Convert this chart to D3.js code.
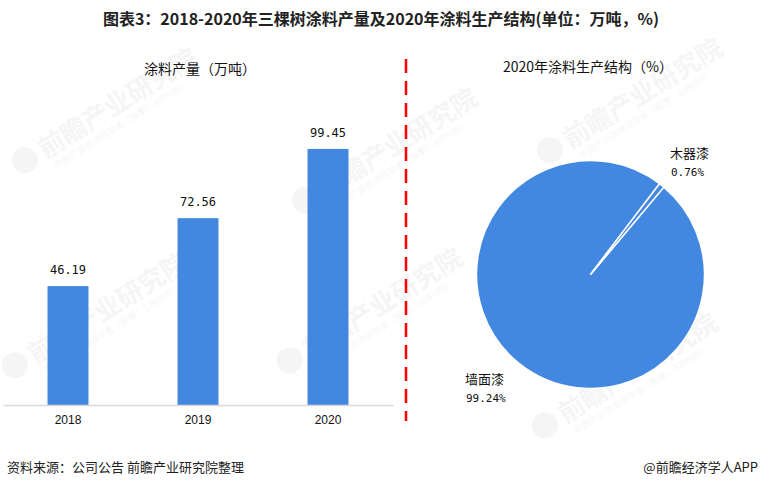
<!DOCTYPE html>
<head>
  <meta charset="utf-8">
  <script src="https://cdn.jsdelivr.net/npm/d3@7"></script>
  <style>
    body { margin: 0; background: #fff; }
    svg { display: block; }
  </style>
</head>
<body>
  <svg width="760" height="488"></svg>
  <script>
    // data
    var years = ["2018", "2019", "2020"];
    var output = [46.19, 72.56, 99.45];
    var pieNames = ["墙面漆", "木器漆"];
    var pieShares = [99.24, 0.76];

    var blue = "#4388e0";
    var cjk = "'Noto Sans CJK SC', 'Liberation Sans', sans-serif";
    var mono = "'DejaVu Sans Mono', monospace";

    var svg = d3.select("svg");

    // faint watermarks
    var marks = [[20, 175], [300, 215], [545, 165], [285, 375], [10, 380], [540, 440]];
    marks.forEach(function(m) {
      var g = svg.append("g")
        .attr("transform", "translate(" + m + ") rotate(-32)")
        .attr("fill", "#000").attr("opacity", 0.035);
      g.append("circle").attr("cx", 12).attr("cy", -10).attr("r", 13);
      g.append("text").attr("x", 30).attr("y", 0)
        .attr("font-family", cjk).attr("font-weight", "bold").attr("font-size", 26)
        .text("前瞻产业研究院");
      g.append("text").attr("x", 34).attr("y", 14)
        .attr("font-family", cjk).attr("font-size", 9)
        .text("中国产业咨询领导者（股票：839599）");
    });

    // title
    svg.append("text")
      .attr("x", 381).attr("y", 25)
      .attr("text-anchor", "middle")
      .attr("font-family", "'Liberation Sans Narrow', " + cjk)
      .attr("font-weight", "bold").attr("font-size", 16)
      .attr("fill", "#222")
      .text("图表3：2018-2020年三棵树涂料产量及2020年涂料生产结构(单位：万吨，%)");

    // ---- bar chart ----
    var xScale = d3.scaleBand()
      .domain(years)
      .range([3, 393])
      .paddingInner(0.685)
      .paddingOuter(0.3425);

    var yScale = d3.scaleLinear()
      .domain([0, 120])
      .range([405, 96]);

    svg.append("text")
      .attr("x", 200).attr("y", 74)
      .attr("text-anchor", "middle")
      .attr("font-family", cjk).attr("font-size", 14).attr("fill", "#111")
      .text("涂料产量（万吨）");

    svg.selectAll("rect.bar")
      .data(output)
      .enter().append("rect")
      .attr("class", "bar")
      .attr("x", function(d, i) { return xScale(years[i]); })
      .attr("y", function(d) { return yScale(d); })
      .attr("width", xScale.bandwidth())
      .attr("height", function(d) { return yScale(0) - yScale(d); })
      .attr("fill", blue);

    svg.selectAll("text.val")
      .data(output)
      .enter().append("text")
      .attr("class", "val")
      .attr("x", function(d, i) { return xScale(years[i]) + xScale.bandwidth() / 2; })
      .attr("y", function(d) { return yScale(d) - 12; })
      .attr("text-anchor", "middle")
      .attr("font-family", mono).attr("font-size", 12).attr("fill", "#111")
      .text(function(d) { return d.toFixed(2); });

    var xAxis = svg.append("g")
      .attr("transform", "translate(0,405)")
      .call(d3.axisBottom(xScale).tickSize(0).tickPadding(10));
    xAxis.select(".domain").attr("stroke", "#d9d9d9").attr("stroke-width", 1.5);
    xAxis.selectAll("text")
      .attr("font-family", "'Liberation Sans', Arial, sans-serif")
      .attr("font-size", 12).attr("fill", "#111");

    // divider
    svg.append("line")
      .attr("x1", 406).attr("x2", 406)
      .attr("y1", 59).attr("y2", 421)
      .attr("stroke", "#ff0000").attr("stroke-width", 2.5)
      .attr("stroke-dasharray", "14,8");

    // ---- pie chart ----
    svg.append("text")
      .attr("x", 588).attr("y", 72)
      .attr("text-anchor", "middle")
      .attr("font-family", cjk).attr("font-size", 14).attr("fill", "#111")
      .text("2020年涂料生产结构（%）");

    var start = 40 * Math.PI / 180;
    var pie = d3.pie().sort(null)
      .startAngle(start).endAngle(start + 2 * Math.PI);
    var arc = d3.arc().innerRadius(0).outerRadius(114);

    var pg = svg.append("g").attr("transform", "translate(590.5,274.5)");
    pg.selectAll("path")
      .data(pie(pieShares))
      .enter().append("path")
      .attr("d", arc)
      .attr("fill", blue)
      .attr("stroke", "#fff").attr("stroke-width", 1.5);

    var labelPos = [[465, 384], [670, 158]];
    pieNames.forEach(function(n, i) {
      svg.append("text")
        .attr("x", labelPos[i][0]).attr("y", labelPos[i][1])
        .attr("font-family", cjk).attr("font-size", 13).attr("fill", "#111")
        .text(n);
      svg.append("text")
        .attr("x", labelPos[i][0] + 1).attr("y", labelPos[i][1] + 18)
        .attr("font-family", mono).attr("font-size", 11).attr("fill", "#111")
        .text(pieShares[i].toFixed(2) + "%");
    });

    // footer
    svg.append("text")
      .attr("x", 7).attr("y", 472)
      .attr("font-family", cjk).attr("font-size", 13).attr("fill", "#222")
      .text("资料来源：公司公告 前瞻产业研究院整理");
    svg.append("text")
      .attr("x", 758).attr("y", 472)
      .attr("text-anchor", "end")
      .attr("font-family", cjk).attr("font-size", 13).attr("fill", "#222")
      .text("@前瞻经济学人APP");
  </script>
</body>
